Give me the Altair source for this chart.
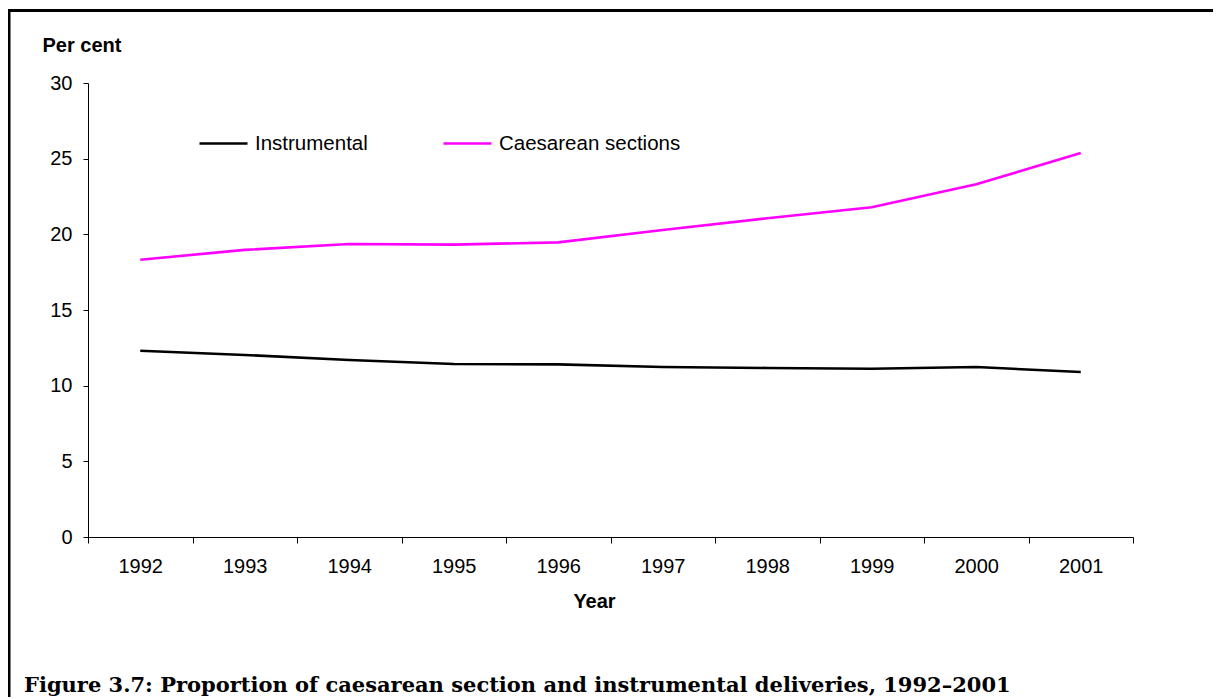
import altair as alt
import pandas as pd

years = [1992, 1993, 1994, 1995, 1996, 1997, 1998, 1999, 2000, 2001]
instrumental = [12.31, 12.03, 11.70, 11.43, 11.41, 11.23, 11.17, 11.12, 11.23, 10.90]
caesarean = [18.32, 18.97, 19.36, 19.32, 19.47, 20.29, 21.06, 21.79, 23.31, 25.37]
series_names = ["Instrumental", "Caesarean sections"]
series_colors = ["#000000", "#ff00ff"]
y_ticks = [0, 5, 10, 15, 20, 25, 30]
caption = "Figure 3.7: Proportion of caesarean section and instrumental deliveries, 1992\u20132001"

df = pd.DataFrame({
    "Year": years + years,
    "Value": instrumental + caesarean,
    "Series": [series_names[0]] * len(years) + [series_names[1]] * len(years),
})

half_years = [y - 0.5 for y in years] + [years[-1] + 0.5]
x_values = sorted(years + half_years)

W, H = 1045, 454
PL, PT, PR, PB = 80, 75, 80, 160

x_axis = alt.Axis(
    values=x_values,
    labelExpr="datum.value % 1 == 0 ? '' + datum.value : ''",
    tickOpacity={"condition": {"test": "datum.value % 1 == 0", "value": 0}, "value": 1},
    labelOverlap=False,
    labelFlush=False,
    tickSize=6,
    labelPadding=13,
    labelFont="Liberation Sans",
    labelFontSize=20,
    labelColor="black",
    domainColor="black",
    tickColor="black",
    grid=False,
    title="Year",
    titleFont="Liberation Sans",
    titleFontSize=20,
    titleFontWeight="bold",
    titleColor="black",
    titleAnchor="start",
    titleAlign="center",
    titleBaseline="alphabetic",
    titleX=506,
    titleY=70,
)

y_axis = alt.Axis(
    values=y_ticks,
    tickSize=5,
    labelPadding=11,
    labelFont="Liberation Sans",
    labelFontSize=20,
    labelColor="black",
    domainColor="black",
    tickColor="black",
    grid=False,
    title="Per cent",
    titleFont="Liberation Sans",
    titleFontSize=20,
    titleFontWeight="bold",
    titleColor="black",
    titleAngle=0,
    titleAlign="left",
    titleBaseline="alphabetic",
    titleX=-46,
    titleY=-32,
)

lines = alt.Chart(df).mark_line(strokeWidth=2.6).encode(
    x=alt.X("Year:Q", scale=alt.Scale(domain=[half_years[0], half_years[-1]], nice=False, zero=False), axis=x_axis),
    y=alt.Y("Value:Q", scale=alt.Scale(domain=[0, 30], nice=False), axis=y_axis),
    color=alt.Color(
        "Series:N",
        scale=alt.Scale(domain=series_names, range=series_colors),
        legend=alt.Legend(
            orient="none",
            legendX=110,
            legendY=35,
            direction="horizontal",
            title=None,
            symbolType="stroke",
            symbolSize=2304,
            symbolStrokeWidth=2.6,
            labelFont="Liberation Sans",
            labelFontSize=20.5,
            labelColor="black",
            labelLimit=0,
            labelOffset=6,
            columnPadding=70,
            padding=0,
        ),
    ),
    detail="Series:N",
)

one = pd.DataFrame({"caption": [caption]})

border_top = alt.Chart(one).mark_rule(color="black", strokeWidth=3).encode(
    x=alt.value(-PL), x2=alt.value(W + PR), y=alt.value(-72.5)
)
border_left = alt.Chart(one).mark_rule(color="black", strokeWidth=3).encode(
    x=alt.value(-PL + 1), y=alt.value(-74), y2=alt.value(H + PB)
)

caption_text = alt.Chart(one).mark_text(
    align="left", baseline="alphabetic", font="DejaVu Serif",
    fontWeight="bold", fontSize=21, color="black"
).encode(
    x=alt.value(24 - 88), y=alt.value(692 - 83), text="caption:N"
)

chart = alt.layer(border_top, border_left, lines, caption_text).properties(
    width=W, height=H,
    autosize="none",
    padding={"left": PL, "top": PT, "right": PR, "bottom": PB},
    background="white",
).configure_view(stroke=None)

chart.save("out.html", embed_options={"renderer": "svg", "actions": False})
